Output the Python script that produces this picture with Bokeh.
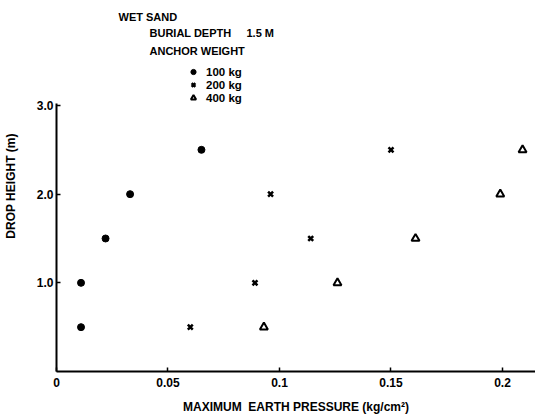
from bokeh.plotting import figure
from bokeh.models import Range1d, FixedTicker, Legend, LegendItem
from bokeh.core.properties import value
from bokeh.embed import file_html
from bokeh.resources import INLINE

# ---- data ----
drop_height = [0.5, 1.0, 1.5, 2.0, 2.5]
pressure_100kg = [0.011, 0.011, 0.022, 0.033, 0.065]
pressure_200kg = [0.060, 0.089, 0.114, 0.096, 0.150]
pressure_400kg = [0.093, 0.126, 0.161, 0.199, 0.209]
series_labels = ["100 kg", "200 kg", "400 kg"]
x_ticks = [0, 0.05, 0.1, 0.15, 0.2]
x_tick_labels = ["0", "0.05", "0.1", "0.15", "0.2"]
y_ticks = [1.0, 2.0, 3.0]
y_tick_labels = ["1.0", "2.0", "3.0"]
header_lines = ["WET SAND", "BURIAL DEPTH\u00a0\u00a0\u00a0\u00a0\u00a01.5 M", "ANCHOR WEIGHT"]

FONT = "Liberation Sans"
W, H = 535, 420
LEFT, BOTTOM_BORDER = 56, 49
FRAME_W = W - LEFT
FRAME_H = H - BOTTOM_BORDER
XMAX = 0.2148
YTOP = FRAME_H / 88.67  # 3.0 sits ~266 px above the x axis

p = figure(width=W, height=H, output_backend="svg", toolbar_location=None,
           x_range=Range1d(0, XMAX), y_range=Range1d(0, YTOP),
           min_border_left=LEFT, min_border_right=0, min_border_top=0,
           min_border_bottom=BOTTOM_BORDER)
p.outline_line_color = None
p.grid.visible = False
p.background_fill_color = "white"
p.border_fill_color = "white"

r1 = p.scatter(pressure_100kg, drop_height, marker="circle", size=7,
               fill_color="black", line_color="black")
r2 = p.scatter(pressure_200kg, drop_height, marker="x", size=7,
               line_color="black", line_width=2.5)
r3 = p.scatter(pressure_400kg, drop_height, marker="triangle", size=8,
               fill_color="white", line_color="black", line_width=2)

for ax in (p.xaxis[0], p.yaxis[0]):
    ax.axis_line_width = 2
    ax.axis_line_color = "black"
    ax.major_tick_in = 4
    ax.major_tick_out = 0
    ax.major_tick_line_width = 1.5
    ax.minor_tick_line_color = None
    ax.major_label_text_font = FONT
    ax.major_label_text_font_style = "bold"
    ax.major_label_text_font_size = "12px"
    ax.major_label_text_color = "black"
    ax.axis_label_text_font = FONT
    ax.axis_label_text_font_style = "bold"
    ax.axis_label_text_font_size = "12px"
    ax.axis_label_text_color = "black"

p.xaxis.ticker = FixedTicker(ticks=x_ticks)
p.xaxis.major_label_overrides = dict(zip(x_ticks, x_tick_labels))
p.xaxis.major_label_standoff = 6
p.xaxis.axis_label = "MAXIMUM\u00a0\u00a0EARTH\u00a0PRESSURE\u00a0(kg/cm\u00b2)"
p.xaxis.axis_label_standoff = 10

p.yaxis.ticker = FixedTicker(ticks=y_ticks)
p.yaxis.major_label_overrides = dict(zip(y_ticks, y_tick_labels))
p.yaxis.major_label_standoff = 3
p.yaxis.axis_label = "DROP HEIGHT (m)"
p.yaxis.axis_label_standoff = 16
p.yaxis.bounds = (0, 3.02)


def dx(px):
    return (px - LEFT) / FRAME_W * XMAX


def dy(py):
    return (FRAME_H - py) / FRAME_H * YTOP


header_x = [dx(118), dx(149), dx(149)]
header_y = [dy(16), dy(32), dy(50)]
p.text(header_x, header_y, text=header_lines, text_font=value(FONT),
       text_font_style="bold", text_font_size="11px", text_color="black",
       text_baseline="middle", text_align="left")

legend = Legend(items=[LegendItem(label=series_labels[0], renderers=[r1]),
                       LegendItem(label=series_labels[1], renderers=[r2]),
                       LegendItem(label=series_labels[2], renderers=[r3])],
                location=(130, 267), orientation="vertical",
                background_fill_alpha=0, border_line_color=None,
                padding=0, margin=0, spacing=0,
                glyph_width=14, glyph_height=13, label_height=13,
                label_standoff=6, label_text_font=FONT,
                label_text_font_style="bold", label_text_font_size="11.5px",
                label_text_color="black")
p.add_layout(legend)

open("out.html", "w").write(file_html(p, INLINE))
